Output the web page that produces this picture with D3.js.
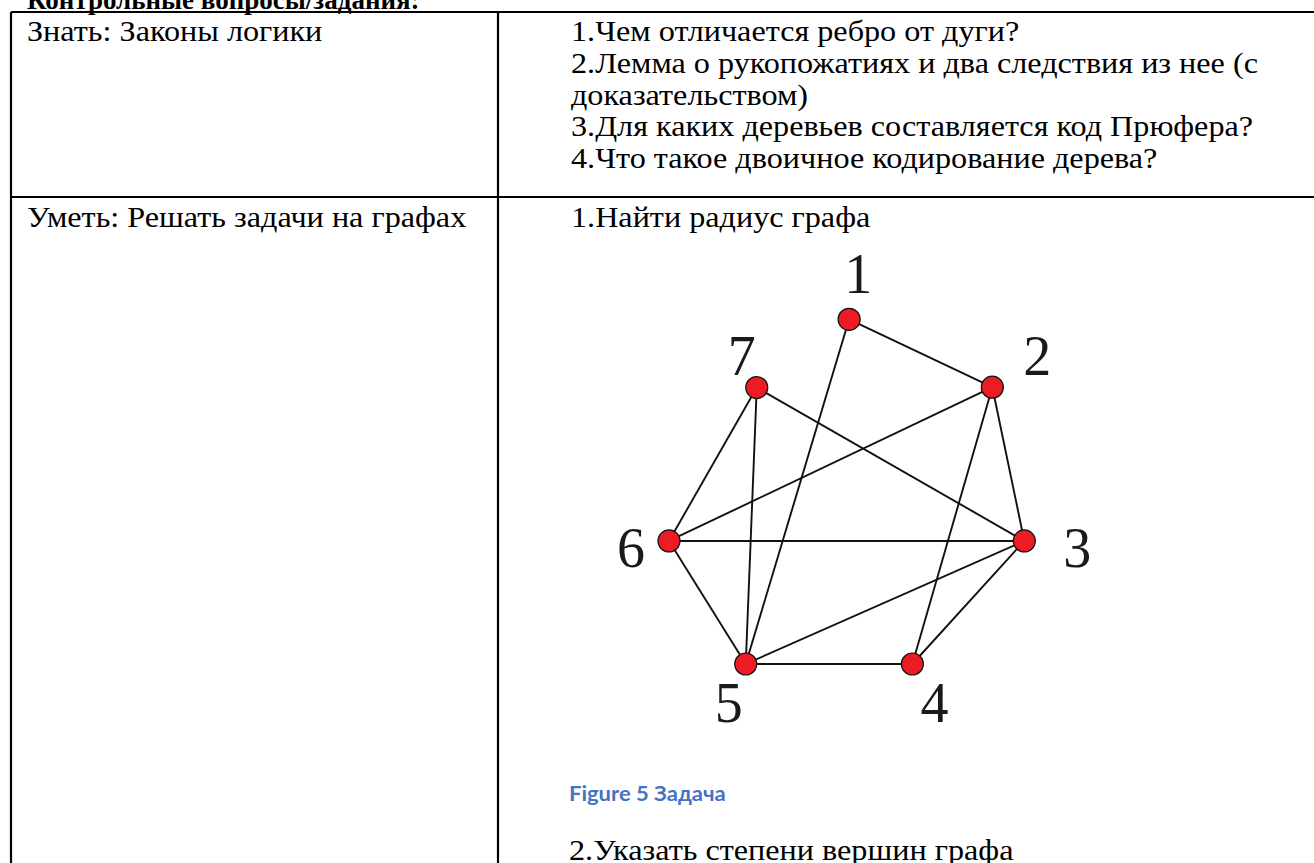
<!DOCTYPE html>
<html>
<head>
<meta charset="utf-8">
<script src="https://cdn.jsdelivr.net/npm/d3@7"></script>
<style>
  html, body { margin: 0; padding: 0; background: #ffffff; overflow: hidden; }
  svg { display: block; }
</style>
</head>
<body>
<svg id="chart" width="1314" height="863"></svg>
<script>
// ---------------- data ----------------
const titleText = "Контрольные вопросы/задания:";
const rowLabels = ["Знать: Законы логики", "Уметь: Решать задачи на графах"];
const row1Items = [
  "1.Чем отличается ребро от дуги?",
  "2.Лемма о рукопожатиях и два следствия из нее (с",
  "доказательством)",
  "3.Для каких деревьев составляется код Прюфера?",
  "4.Что такое двоичное кодирование дерева?"
];
const row2Items = ["1.Найти радиус графа"];
const captionText = "Figure 5 Задача";
const row2Tail = ["2.Указать степени вершин графа"];

// graph vertices (graph units 0..100)
const nodeIds = ["1", "2", "3", "4", "5", "6", "7"];
const nodeX = [50.7, 91.0, 100, 68.5, 21.6, 0, 24.7];
const nodeY = [0, 19.7, 64.3, 100, 100, 64.3, 19.8];
const edges = [
  ["1", "2"], ["1", "5"], ["7", "6"], ["7", "5"], ["7", "3"],
  ["2", "6"], ["2", "3"], ["2", "4"], ["6", "3"], ["6", "5"],
  ["5", "3"], ["5", "4"], ["4", "3"]
];

// ---------------- layout ----------------
const W = 1314, H = 863;
const tableLeft = 11, tableTop = 12, colDiv = 498, rowDiv = 197;
const leftTextX = 27, rightTextX = 571;
const bodyFont = "'Liberation Serif', 'Times New Roman', serif";
const bodySize = 29;
const bodyStretch = 1.11;
const lineStep = 31.75;
// label offsets in px relative to the vertex, by vertex id
const labelOffset = {
  "1": [9, -45], "2": [45, -31], "3": [53, 7], "4": [22, 39],
  "5": [-17, 39], "6": [-38, 7], "7": [-15, -32]
};

const svg = d3.select("#chart");

function bodyText(sel, xFn, yFn) {
  return sel
    .attr("x", 0).attr("y", 0)
    .attr("transform", (d, i) => `translate(${xFn(d, i)},${yFn(d, i)}) scale(${bodyStretch},1)`)
    .attr("font-family", bodyFont).attr("font-size", bodySize).attr("fill", "#000")
    .text(d => d);
}

// title (cut by top edge)
svg.append("text")
  .attr("x", 27).attr("y", 9)
  .attr("font-family", bodyFont).attr("font-weight", "bold")
  .attr("font-size", 27).attr("fill", "#000")
  .text(titleText);

// table borders
const borders = [
  [tableLeft, tableTop, W + 5, tableTop],
  [tableLeft, rowDiv, W + 5, rowDiv],
  [tableLeft, tableTop, tableLeft, H + 5],
  [colDiv, tableTop, colDiv, H + 5]
];
svg.selectAll("line.border").data(borders).enter().append("line")
  .attr("class", "border")
  .attr("x1", d => d[0]).attr("y1", d => d[1])
  .attr("x2", d => d[2]).attr("y2", d => d[3])
  .attr("stroke", "#000").attr("stroke-width", 2.2);

// row labels
const rowBase = [41, 227];
bodyText(svg.selectAll("text.rowlabel").data(rowLabels).enter().append("text").attr("class", "rowlabel"),
  () => leftTextX, (d, i) => rowBase[i]);

// row 1 items
bodyText(svg.selectAll("text.r1").data(row1Items).enter().append("text").attr("class", "r1"),
  () => rightTextX, (d, i) => rowBase[0] + i * lineStep);

// row 2 items
bodyText(svg.selectAll("text.r2").data(row2Items).enter().append("text").attr("class", "r2"),
  () => rightTextX, (d, i) => rowBase[1] + i * lineStep);

// graph
const xScale = d3.scaleLinear().domain([0, 100]).range([669, 1024.3]);
const yScale = d3.scaleLinear().domain([0, 100]).range([319.3, 664]);
const nodes = nodeIds.map((id, i) => ({ id, x: nodeX[i], y: nodeY[i] }));
const byId = new Map(nodes.map(n => [n.id, n]));

const g = svg.append("g");
g.selectAll("line.edge").data(edges).enter().append("line")
  .attr("class", "edge")
  .attr("x1", d => xScale(byId.get(d[0]).x)).attr("y1", d => yScale(byId.get(d[0]).y))
  .attr("x2", d => xScale(byId.get(d[1]).x)).attr("y2", d => yScale(byId.get(d[1]).y))
  .attr("stroke", "#111").attr("stroke-width", 1.9);

g.selectAll("circle.node").data(nodes).enter().append("circle")
  .attr("class", "node")
  .attr("cx", d => xScale(d.x)).attr("cy", d => yScale(d.y))
  .attr("r", 11)
  .attr("fill", "#ec1c24").attr("stroke", "#111").attr("stroke-width", 1.2);

g.selectAll("text.nlabel").data(nodes).enter().append("text")
  .attr("class", "nlabel")
  .attr("x", d => xScale(d.x) + labelOffset[d.id][0])
  .attr("y", d => yScale(d.y) + labelOffset[d.id][1])
  .attr("text-anchor", "middle").attr("dominant-baseline", "central")
  .attr("font-family", bodyFont).attr("font-size", 56).attr("fill", "#1a1a1a")
  .text(d => d.id);

// caption
svg.append("text")
  .attr("x", 0).attr("y", 0)
  .attr("transform", "translate(569,801) scale(1.1,1)")
  .attr("font-family", "Lato, 'Open Sans', sans-serif").attr("font-weight", "bold")
  .attr("font-size", 20).attr("fill", "#4472c4")
  .text(captionText);

// continuation line
bodyText(svg.selectAll("text.tail").data(row2Tail).enter().append("text").attr("class", "tail"),
  () => 569, (d, i) => 860 + i * lineStep);
</script>
</body>
</html>
